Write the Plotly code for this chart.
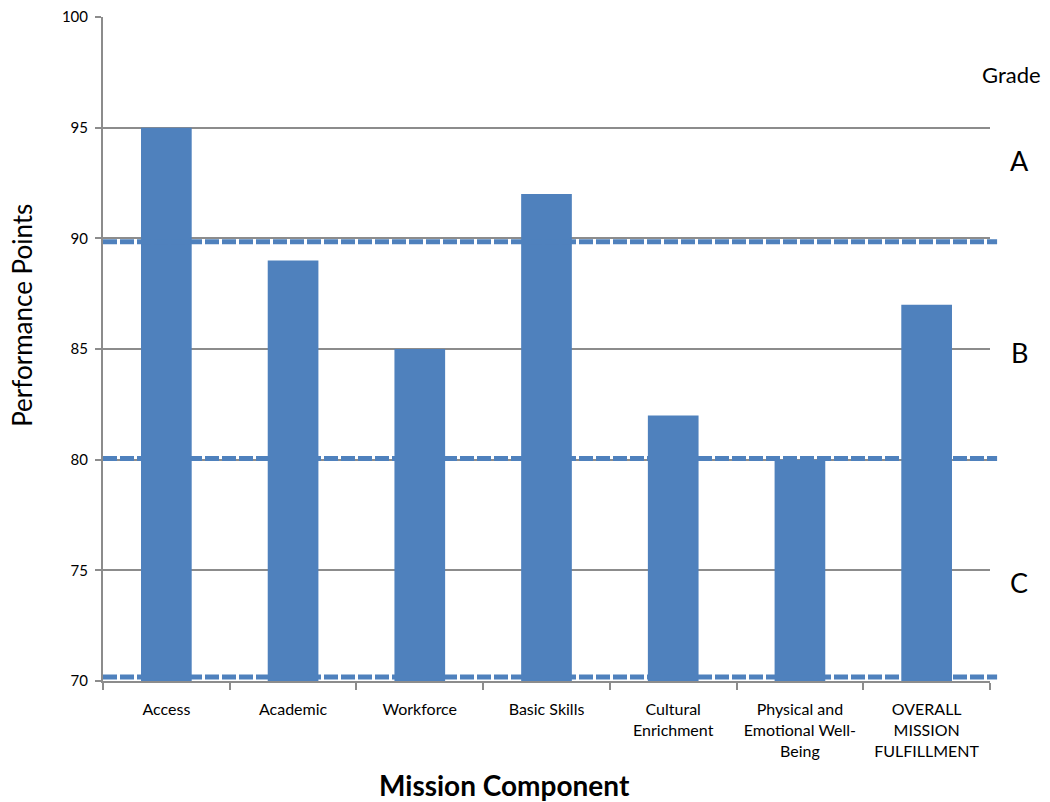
import plotly.graph_objects as go

components = ["Access", "Academic", "Workforce", "Basic Skills",
              "Cultural<br>Enrichment", "Physical and<br>Emotional Well-<br>Being",
              "OVERALL<br>MISSION<br>FULFILLMENT"]
points = [95, 89, 85, 92, 82, 80, 87]

grade_cutoffs = [89.85, 80.05, 70.18]
grade_letters = ["A", "B", "C"]
grade_label_y = [93.5, 84.85, 74.45]

BLUE = "#4f81bd"
GRID = "#8c8c8c"
FONT = "Lato, 'Liberation Sans', sans-serif"

fig = go.Figure()
fig.add_trace(go.Bar(x=components, y=points, marker=dict(color=BLUE, line=dict(width=0)),
                     width=0.4))

for c in grade_cutoffs:
    fig.add_shape(type="line", xref="paper", yref="y", x0=0, x1=1.008, y0=c, y1=c,
                  line=dict(color=BLUE, width=5, dash="14px,3px"), layer="above")

fig.add_annotation(text="Grade", xref="paper", yref="y", x=1.0248, y=97.4, showarrow=False,
                   xanchor="center", font=dict(family=FONT, size=22, color="#000"))
for g, gy in zip(grade_letters, grade_label_y):
    fig.add_annotation(text=g, xref="paper", yref="y", x=1.033, y=gy, showarrow=False,
                       xanchor="center", font=dict(family=FONT, size=27, color="#000"))

fig.add_annotation(text="Performance Points", xref="paper", yref="paper", x=-0.0913, y=0.55,
                   xanchor="center", yanchor="middle",
                   textangle=-90, showarrow=False, font=dict(family=FONT, size=26, color="#000"))
fig.add_annotation(text="<b>Mission Component</b>", xref="paper", yref="paper", x=0.453, y=-0.157,
                   xanchor="center", yanchor="middle", showarrow=False,
                   font=dict(family=FONT, size=28, color="#000"))

fig.update_layout(
    width=1050, height=802,
    margin=dict(l=103, r=60, t=17, b=121, autoexpand=False),
    plot_bgcolor="white", paper_bgcolor="white",
    showlegend=False,
    font=dict(family=FONT, color="#000"),
    xaxis=dict(showline=True, linecolor=GRID, linewidth=2, ticks="outside", tickson="boundaries",
               ticklen=7, tickcolor=GRID, tickwidth=2, tickfont=dict(size=16),
               ticklabelstandoff=13, showgrid=False),
    yaxis=dict(range=[70, 100], dtick=5, showline=True, linecolor=GRID, linewidth=2,
               ticks="outside", ticklen=6, tickcolor=GRID, tickwidth=2,
               showgrid=True, gridcolor=GRID, gridwidth=1.5, zeroline=False,
               tickfont=dict(size=15), ticklabelstandoff=4),
)

fig.write_html("out.html")
